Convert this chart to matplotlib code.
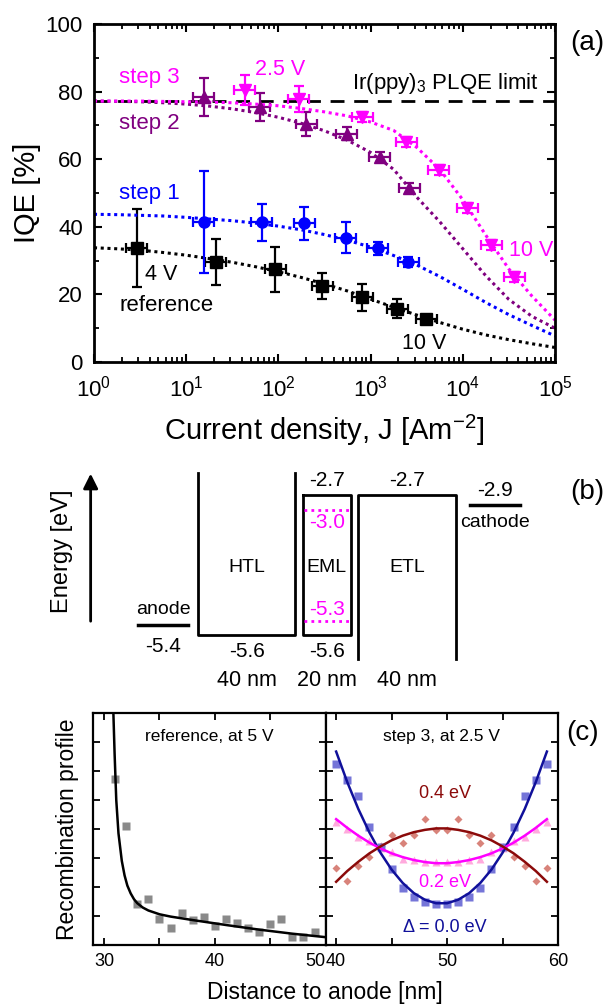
import numpy as np
import matplotlib
matplotlib.use("Agg")
import matplotlib.pyplot as plt
from matplotlib.ticker import MultipleLocator, NullFormatter

plt.rcParams['font.family'] = ['Liberation Sans', 'DejaVu Sans']
plt.rcParams['mathtext.default'] = 'regular'
plt.rcParams['mathtext.fontset'] = 'custom'
plt.rcParams['mathtext.rm'] = 'Liberation Sans'

# ---------------- (a) IQE vs current density ----------------
ref_J = [2.9, 21, 93, 300, 815, 1950, 4000]
ref_iqe = [33.7, 29.6, 27.4, 22.4, 19.1, 15.8, 12.6]
ref_err = [11.5, 6.7, 6.7, 3.9, 4.0, 2.7, 1.0]

s1_J = [15.5, 66, 191, 540, 1200, 2560]
s1_iqe = [41.4, 41.3, 41.0, 36.8, 33.6, 29.5]
s1_err = [15.0, 5.4, 5.0, 4.5, 2.0, 1.5]

s2_J = [15.5, 63, 200, 550, 1250, 2640]
s2_iqe = [78.4, 75.4, 70.4, 67.6, 60.6, 51.4]
s2_err = [5.5, 4.2, 3.5, 2.0, 1.5, 1.5]

s3_J = [43, 166, 815, 2450, 5500, 11200, 20300, 36000]
s3_iqe = [80.5, 77.8, 72.5, 65.1, 56.8, 45.6, 34.6, 25.1]
s3_err = [4.4, 3.8, 1.5, 1.5, 1.5, 1.5, 1.5, 1.5]

x_rel_err = 0.3

# fit curves read at quarter decades, J = 1 ... 1e5
fit_logJ = [0, 0.25, 0.5, 0.75, 1, 1.25, 1.5, 1.75, 2, 2.25, 2.5,
            2.75, 3, 3.25, 3.5, 3.75, 4, 4.25, 4.5, 4.75, 5]
ref_fit = [33.8, 33.5, 33.1, 32.4, 31.6, 30.6, 29.5, 28.2, 26.7, 25.0, 23.1,
           21.0, 18.6, 16.2, 13.9, 11.7, 9.7, 8.0, 6.6, 5.4, 4.3]
s1_fit = [43.7, 43.6, 43.4, 43.2, 42.8, 42.3, 41.8, 41.1, 40.2, 39.1, 37.7,
          36.0, 34.0, 31.5, 28.7, 25.3, 21.5, 17.6, 14.0, 10.8, 7.7]
s2_fit = [77.2, 77.1, 77.0, 76.7, 76.3, 75.7, 74.9, 73.8, 72.4, 70.6, 68.4,
          65.6, 62.0, 57.0, 48.8, 41.5, 33.5, 25.5, 18.5, 13.5, 10.0]
s3_fit = [77.2, 77.2, 77.2, 77.1, 77.0, 76.9, 76.7, 76.3, 75.8, 75.0, 74.0,
          72.8, 71.0, 68.5, 63.5, 57.0, 48.0, 37.5, 27.5, 19.5, 12.4]
plqe_limit = 77.3

# ---------------- (b) energy levels [eV] ----------------
layer_names = ['HTL', 'EML', 'ETL']
layer_nm = [40, 20, 40]
htl_homo = -5.6
eml_lumo, eml_homo = -2.7, -5.6
etl_lumo = -2.7
dopant_lumo, dopant_homo = -3.0, -5.3
anode_level, cathode_level = -5.4, -2.9

# ---------------- (c) recombination profiles ----------------
ref_pos = [31, 32, 33, 34, 35, 36, 37, 38, 39, 40, 41, 42, 43, 44, 45, 46, 47, 48, 49]
ref_prof = [5.71, 4.11, 1.42, 1.58, 0.90, 0.60, 1.11, 0.87, 0.97, 0.66,
            0.90, 0.75, 0.60, 0.44, 0.73, 0.91, 0.28, 0.28, 0.44]
ref_model_pos = [30.84, 30.95, 31.1, 31.3, 31.6, 31.85, 32.1, 32.4, 32.7, 33.0,
                 33.5, 34.0, 35.0, 36.0, 38.0, 41.0, 44.0, 47.0, 50.0]
ref_model = [8.0, 6.6, 5.0, 3.85, 2.9, 2.4, 2.05, 1.78, 1.58, 1.44,
             1.29, 1.19, 1.06, 0.98, 0.86, 0.69, 0.53, 0.39, 0.27]

eml_pos = [40, 41, 42, 43, 44, 45, 46, 47, 48, 49, 50, 51, 52, 53, 54, 55, 56, 57, 58, 59]
d00_sim = [6.24, 5.69, 5.15, 4.08, 3.39, 2.62, 1.95, 1.67, 1.47, 1.41,
           1.41, 1.47, 1.67, 1.95, 2.62, 3.39, 4.08, 5.15, 5.69, 6.24]
d02_sim = [4.25, 4.0, 3.74, 3.6, 3.35, 3.2, 2.95, 2.92, 2.87, 2.85,
           2.85, 2.87, 2.92, 2.95, 3.2, 3.35, 3.6, 3.74, 4.0, 4.25]
d04_sim = [2.67, 2.2, 2.74, 3.04, 3.42, 3.79, 3.52, 3.79, 4.34, 3.96,
           3.96, 4.34, 3.79, 3.52, 3.79, 3.39, 3.04, 2.74, 2.2, 2.67]
d00_fit = [6.67, 5.62, 4.69, 3.88, 3.18, 2.60, 2.14, 1.79, 1.56, 1.44,
           1.44, 1.56, 1.79, 2.14, 2.60, 3.18, 3.88, 4.69, 5.62, 6.67]
d02_fit = [4.34, 4.04, 3.77, 3.53, 3.33, 3.16, 3.03, 2.93, 2.86, 2.82,
           2.82, 2.86, 2.93, 3.03, 3.16, 3.33, 3.53, 3.77, 4.04, 4.34]
d04_fit = [2.18, 2.55, 2.87, 3.16, 3.40, 3.61, 3.77, 3.89, 3.97, 4.02,
           4.02, 3.97, 3.89, 3.77, 3.61, 3.40, 3.16, 2.87, 2.55, 2.18]

W, H = 608, 1006
fig = plt.figure(figsize=(W / 100, H / 100), dpi=100)


def box(l, t, r, b):
    return [l / W, 1 - b / H, (r - l) / W, (b - t) / H]


# ===== panel (a) =====
ax = fig.add_axes(box(94, 24, 555, 362))
ax.set_xscale('log')
dot = (0, (1, 1.2))
series = [
    (ref_J, ref_iqe, ref_err, ref_fit, 'black', 's'),
    (s1_J, s1_iqe, s1_err, s1_fit, '#0000ff', 'o'),
    (s2_J, s2_iqe, s2_err, s2_fit, '#800080', '^'),
    (s3_J, s3_iqe, s3_err, s3_fit, '#ff00ff', 'v'),
]
ax.axhline(plqe_limit, color='black', ls=(0, (5, 3.5)), lw=2, zorder=1)
for J, iqe, err, fit, col, mk in series:
    ax.plot(10 ** np.array(fit_logJ), fit, ls=dot, color=col, lw=2.2)
    J = np.array(J)
    xerr = [J - J / (1 + x_rel_err), J * x_rel_err]
    ax.errorbar(J, iqe, yerr=err, xerr=xerr, fmt=mk, color=col, ms=8,
                elinewidth=1.6, capsize=3.5, capthick=1.6)

ax.set_xlim(1, 1e5)
ax.set_ylim(0, 100)
ax.yaxis.set_major_locator(MultipleLocator(20))
ax.yaxis.set_minor_locator(MultipleLocator(10))
ax.tick_params(which='both', direction='in', top=True, right=True, labelsize=16)
ax.tick_params(which='major', length=6, width=1.5, pad=8)
ax.tick_params(axis='x', which='major', pad=10)
ax.tick_params(which='minor', length=3.5, width=1.3)
ax.xaxis.set_minor_formatter(NullFormatter())
for sp in ax.spines.values():
    sp.set_linewidth(2)
ax.set_xlabel('Current density, J [Am$^{-2}$]', fontsize=21, labelpad=8)
ax.set_ylabel('IQE [%]', fontsize=21, labelpad=3)

ax.text(1.87, 84.3, 'step 3', color='#ff00ff', fontsize=16, va='center')
ax.text(56, 86.4, '2.5 V', color='#ff00ff', fontsize=15.5, va='center')
ax.text(1.87, 70.7, 'step 2', color='#800080', fontsize=16, va='center')
ax.text(1.87, 50, 'step 1', color='#0000ff', fontsize=16, va='center')
ax.text(3.6, 26, '4 V', color='black', fontsize=15.5, va='center')
ax.text(1.87, 16.6, 'reference', color='black', fontsize=16, va='center')
ax.text(2200, 5.6, '10 V', color='black', fontsize=15.5, va='center')
ax.text(31600, 33, '10 V', color='#ff00ff', fontsize=15.5, va='center')
ax.text(6.7e4, 82.5, 'Ir(ppy)$_3$ PLQE limit', fontsize=16, ha='right', va='center')
fig.text(587 / W, 1 - 43 / H, '(a)', fontsize=20, ha='center', va='center')

# ===== panel (b) =====
bx = fig.add_axes([0, 1 - 700 / H, 1, 240 / H])
bx.set_xlim(-81.5, 168.7)
bx.set_ylim(-6.944, -1.975)
bx.axis('off')
gap = 3
x0 = np.concatenate([[0], np.cumsum(np.array(layer_nm) + gap)])[:-1]
x1 = x0 + np.array(layer_nm)
lw_b = 2
top_open, bottom_open = -2.25, -6.1
# HTL: open top
bx.plot([x0[0], x0[0], x1[0], x1[0]], [top_open, htl_homo, htl_homo, top_open], color='k', lw=lw_b)
# EML: closed box
bx.plot([x0[1], x0[1], x1[1], x1[1], x0[1]], [eml_lumo, eml_homo, eml_homo, eml_lumo, eml_lumo],
        color='k', lw=lw_b)
bx.plot([x0[1] + 0.8, x1[1] - 0.8], [dopant_lumo] * 2, ls=(0, (1, 1.5)), color='#ff00ff', lw=2)
bx.plot([x0[1] + 0.8, x1[1] - 0.8], [dopant_homo] * 2, ls=(0, (1, 1.5)), color='#ff00ff', lw=2)
# ETL: open bottom
bx.plot([x0[2], x0[2], x1[2], x1[2]], [bottom_open, etl_lumo, etl_lumo, bottom_open], color='k', lw=lw_b)
# electrodes
bx.plot([x0[0] - 24.7, x0[0] - 4.1], [anode_level] * 2, color='k', lw=lw_b + 0.5)
bx.plot([x1[2] + 6, x1[2] + 26.5], [cathode_level] * 2, color='k', lw=lw_b + 0.5)
bx.annotate('', xy=(-44.2, -2.2), xytext=(-44.2, -5.37),
            arrowprops=dict(arrowstyle='-|>', lw=2, color='k', mutation_scale=22))
bx.text(-56, -3.86, 'Energy [eV]', rotation=90, fontsize=17, ha='center', va='center')

for i, name in enumerate(layer_names):
    xc = (x0[i] + x1[i]) / 2
    bx.text(xc, -4.21, name, fontsize=14, ha='center', va='center')
    bx.text(xc, -6.53, f'{layer_nm[i]} nm', fontsize=15.5, ha='center', va='center')
xc = (x0 + x1) / 2
num_fs = 15
bx.text(xc[0], htl_homo - 0.33, f'{htl_homo:.1f}', fontsize=num_fs, ha='center', va='center')
bx.text(xc[1], eml_homo - 0.33, f'{eml_homo:.1f}', fontsize=num_fs, ha='center', va='center')
bx.text(xc[1], eml_lumo + 0.3, f'{eml_lumo:.1f}', fontsize=num_fs, ha='center', va='center')
bx.text(xc[2], etl_lumo + 0.3, f'{etl_lumo:.1f}', fontsize=num_fs, ha='center', va='center')
bx.text(xc[1], dopant_lumo - 0.26, f'{dopant_lumo:.1f}', fontsize=num_fs, color='#ff00ff',
        ha='center', va='center')
bx.text(xc[1], dopant_homo + 0.22, f'{dopant_homo:.1f}', fontsize=num_fs, color='#ff00ff',
        ha='center', va='center')
anode_x = x0[0] - 14.4
cath_x = x1[2] + 16.2
bx.text(anode_x, anode_level + 0.33, 'anode', fontsize=14, ha='center', va='center')
bx.text(anode_x, anode_level - 0.43, f'{anode_level:.1f}', fontsize=num_fs, ha='center', va='center')
bx.text(cath_x, cathode_level + 0.3, f'{cathode_level:.1f}', fontsize=num_fs, ha='center', va='center')
bx.text(cath_x, cathode_level - 0.37, 'cathode', fontsize=14, ha='center', va='center')
fig.text(587 / W, 1 - 492 / H, '(b)', fontsize=20, ha='center', va='center')

# ===== panel (c) =====
cl = fig.add_axes(box(93, 713, 325.6, 945))
cr = fig.add_axes(box(325.6, 713, 558, 945))

cl.plot(ref_pos, ref_prof, 's', color='#8a8a8a', ms=5.2, mec='none')
cl.plot(ref_model_pos, ref_model, color='black', lw=1.8)
cl.set_xlim(29, 50)
cl.text(0.5, 0.9, 'reference, at 5 V', transform=cl.transAxes, fontsize=12.5,
        ha='center', va='center')

cr.plot(eml_pos, d04_sim, 'D', color='#d8837a', ms=4.4, mec='none')
cr.plot(eml_pos, d02_sim, '^', color='#ffaadd', ms=5.8, mec='none')
cr.plot(eml_pos, d00_sim, 's', color='#7575d8', ms=5.2, mec='none')
cr.plot(eml_pos, d00_fit, color='#10109a', lw=1.8)
cr.plot(eml_pos, d02_fit, color='#ff00ff', lw=1.8)
cr.plot(eml_pos, d04_fit, color='#8b0a0a', lw=1.8)
cr.set_xlim(39.05, 60)
cr.text(0.5, 0.9, 'step 3, at 2.5 V', transform=cr.transAxes, fontsize=12.5,
        ha='center', va='center')
cr.text(49.8, 5.24, '0.4 eV', color='#8b0a0a', fontsize=13, ha='center', va='center')
cr.text(49.8, 2.17, '0.2 eV', color='#ff00ff', fontsize=13, ha='center', va='center')
cr.text(49.8, 0.59, 'Δ = 0.0 eV', color='#10109a', fontsize=13, ha='center', va='center')

for a in (cl, cr):
    a.set_ylim(0, 8)
    a.yaxis.set_major_locator(MultipleLocator(1))
    a.tick_params(direction='in', top=True, right=True, length=5, width=1.3,
                  labelsize=13, labelleft=False, pad=6)
    for sp in a.spines.values():
        sp.set_linewidth(1.6)
cl.set_xticks([30, 35, 40, 45, 50])
cl.set_xticklabels(['30', '', '40', '', '50'])
cl.get_xticklabels()[4].set_horizontalalignment('right')
cr.set_xticks([40, 45, 50, 55, 60])
cr.set_xticklabels(['40', '', '50', '', '60'])
cl.set_ylabel('Recombination profile', fontsize=16.5, labelpad=10)
fig.text(325 / W, 1 - 992 / H, 'Distance to anode [nm]', fontsize=16.5, ha='center', va='center')
fig.text(583 / W, 1 - 733 / H, '(c)', fontsize=20, ha='center', va='center')

fig.savefig('out.png', dpi=100)
